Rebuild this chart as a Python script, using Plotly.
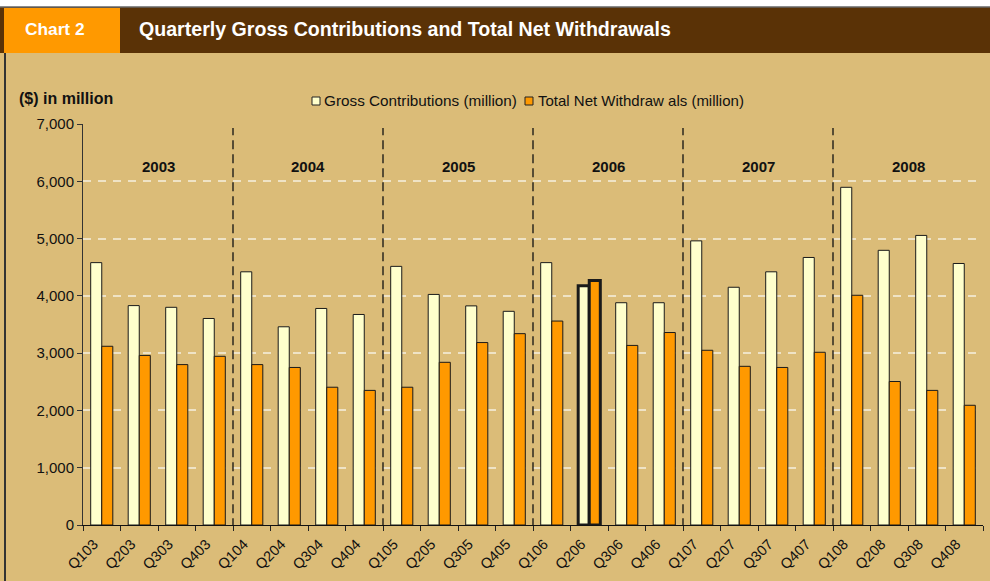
import plotly.graph_objects as go

quarters = ["Q103", "Q203", "Q303", "Q403", "Q104", "Q204", "Q304", "Q404",
            "Q105", "Q205", "Q305", "Q405", "Q106", "Q206", "Q306", "Q406",
            "Q107", "Q207", "Q307", "Q407", "Q108", "Q208", "Q308", "Q408"]
gross = [4580, 3830, 3800, 3605, 4420, 3460, 3780, 3675,
         4515, 4025, 3825, 3730, 4580, 4175, 3880, 3880,
         4960, 4150, 4420, 4670, 5895, 4795, 5055, 4565]
net_withdrawals = [3120, 2960, 2800, 2945, 2800, 2750, 2405, 2350,
                   2405, 2840, 3185, 3340, 3560, 4270, 3135, 3360,
                   3050, 2770, 2750, 3015, 4010, 2505, 2350, 2090]
years = ["2003", "2004", "2005", "2006", "2007", "2008"]
highlight = "Q206"

BG = "#DBBC78"
BROWN = "#5A3206"
ORANGE = "#FF9900"
CREAM = "#FFFFCC"
FONT = "Liberation Sans, Arial, sans-serif"

W, H = 990, 581
ML, MR, MT, MB = 83, 7, 124, 56
PW, PH = W - ML - MR, H - MT - MB


def px(x):
    return (x - ML) / PW


def py(y):
    return 1 - (y - MT) / PH


lw = [3 if q == highlight else 1 for q in quarters]

fig = go.Figure()
fig.add_trace(go.Bar(x=quarters, y=gross, name="Gross Contributions (million)",
                     marker=dict(color=CREAM, line=dict(color="#1a1a1a", width=lw))))
fig.add_trace(go.Bar(x=quarters, y=net_withdrawals, name="Total Net Withdraw als (million)",
                     marker=dict(color=ORANGE, line=dict(color="#1a1a1a", width=lw))))

shapes = []
shapes.append(dict(type="rect", xref="paper", yref="paper", x0=px(-5), x1=px(W + 5),
                   y0=py(7), y1=py(-5), fillcolor="white", line=dict(width=0), layer="below"))
shapes.append(dict(type="rect", xref="paper", yref="paper", x0=px(-5), x1=px(W + 5),
                   y0=py(53), y1=py(7), fillcolor=BROWN, line=dict(width=0), layer="below"))
shapes.append(dict(type="rect", xref="paper", yref="paper", x0=px(4), x1=px(120),
                   y0=py(53), y1=py(8), fillcolor=ORANGE, line=dict(width=0), layer="below"))
shapes.append(dict(type="line", xref="paper", yref="paper", x0=px(0), x1=px(W),
                   y0=py(7), y1=py(7), line=dict(color="#666666", width=1.5)))
shapes.append(dict(type="line", xref="paper", yref="paper", x0=px(5), x1=px(5),
                   y0=py(53), y1=py(H + 5), line=dict(color="#333333", width=2)))

n_per_year = 4
for i in range(1, len(years)):
    xb = i * n_per_year - 0.5
    shapes.append(dict(type="line", xref="x", yref="y", x0=xb, x1=xb, y0=-40, y1=6930,
                       line=dict(color="#111111", width=1.3, dash="9px,5px")))

shapes.append(dict(type="rect", xref="paper", yref="paper", x0=px(312), x1=px(320),
                   y0=py(105), y1=py(97), fillcolor=CREAM, line=dict(color="#222", width=1)))
shapes.append(dict(type="rect", xref="paper", yref="paper", x0=px(525), x1=px(533),
                   y0=py(105), y1=py(97), fillcolor=ORANGE, line=dict(color="#222", width=1)))


def note(x, y, text, size, color="#111", xanchor="center", bold=False):
    return dict(x=px(x), y=py(y), xref="paper", yref="paper", xanchor=xanchor, yanchor="middle",
                text=("<b>%s</b>" % text) if bold else text, showarrow=False,
                font=dict(family=FONT, size=size, color=color))


annotations = []
for i, yr in enumerate(years):
    annotations.append(dict(x=i * n_per_year + 1.5, y=6250, xref="x", yref="y", text="<b>%s</b>" % yr,
                            yanchor="middle", showarrow=False,
                            font=dict(family=FONT, size=15, color="#111")))
annotations.append(note(55, 29, "Chart 2", 17.3, "white", bold=True))
annotations.append(note(137, 29, "Quarterly Gross Contributions and Total Net Withdrawals", 19.6,
                        "white", xanchor="left", bold=True))
annotations.append(note(17, 98, "($) in million", 16, xanchor="left", bold=True))
annotations.append(note(322, 101, fig.data[0].name, 15.3, xanchor="left"))
annotations.append(note(536, 101, fig.data[1].name, 15, xanchor="left"))

fig.update_layout(
    width=W, height=H,
    margin=dict(l=ML, r=MR, t=MT, b=MB, pad=0),
    paper_bgcolor=BG, plot_bgcolor=BG,
    barmode="group", bargap=0.41, bargroupgap=0,
    showlegend=False,
    shapes=shapes, annotations=annotations,
    font=dict(family=FONT, size=13, color="#111"),
    xaxis=dict(type="category", tickangle=-45, tickson="boundaries", ticks="outside",
               ticklen=5, tickcolor="#222", showline=True, linecolor="#111", linewidth=1,
               showgrid=False, ticklabelshift=-8, ticklabelstandoff=4,
               tickfont=dict(family=FONT, size=14.5, color="#111")),
    yaxis=dict(range=[0, 7000], dtick=1000, tickformat=",", ticks="outside", ticklen=5,
               tickcolor="#333", showline=True, linecolor="#333", linewidth=1,
               showgrid=True, gridcolor="#EFE3C6", gridwidth=1.5, griddash="8px,7px",
               zeroline=False, tickfont=dict(family=FONT, size=15, color="#111")),
)

fig.write_html("out.html")
